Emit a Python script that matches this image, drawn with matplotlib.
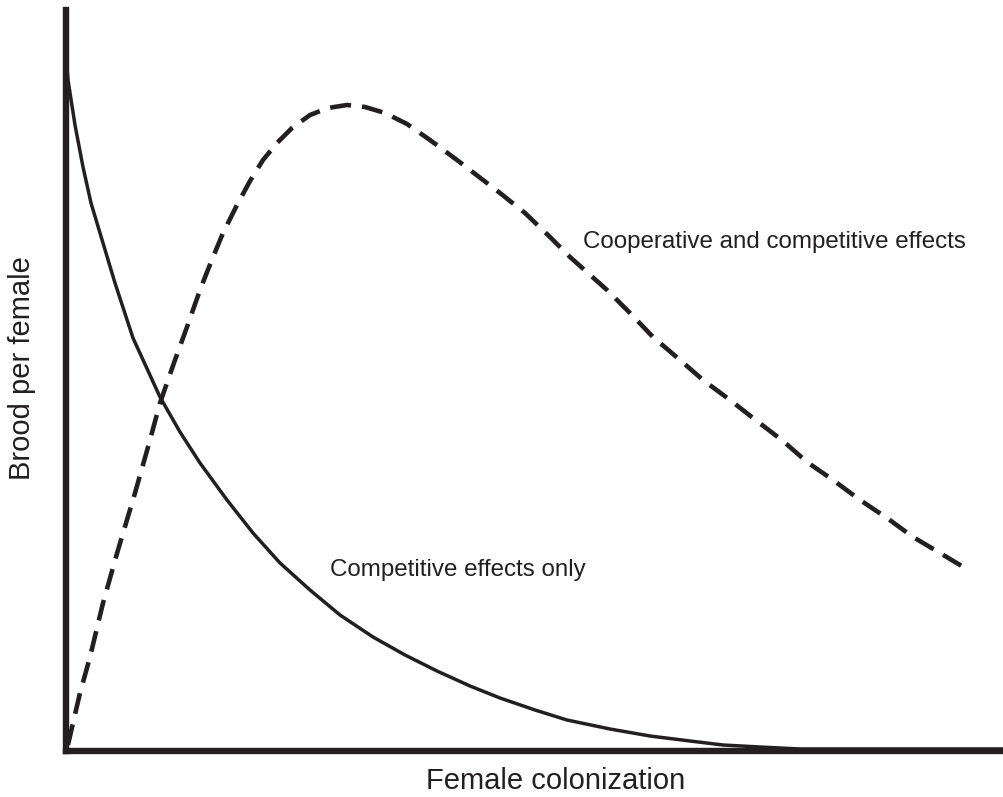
import matplotlib
matplotlib.use("Agg")
import matplotlib.pyplot as plt

plt.rcParams['font.family'] = ['Liberation Sans', 'DejaVu Sans']

# Arbitrary units (no tick marks on the original); x: 0-938, y: 0-741
comp_x = [0, 2, 9, 17, 25, 34, 49, 67, 94, 114, 134, 161, 187, 214, 244, 274, 307, 339,
          371, 404, 434, 469, 501, 544, 584, 624, 657, 694, 734, 938]
comp_y = [696, 671, 626, 584, 548, 518, 468, 413, 354, 319, 288, 251, 218, 188, 161, 136,
          114, 96, 80, 65, 53, 41, 31, 22, 15, 10, 6, 4, 2, 2]

coop_x = [2, 7, 14, 24, 37, 52, 69, 84, 94, 109, 121, 134, 145, 157, 171, 184, 197, 211,
          226, 244, 262, 281, 299, 319, 341, 364, 391, 417, 434, 459, 484, 504, 541, 564,
          587, 614, 637, 664, 687, 717, 741, 767, 794, 821, 847, 874, 904]
coop_y = [6, 28, 58, 94, 148, 201, 258, 311, 348, 391, 424, 461, 489, 518, 546, 570, 591,
          608, 623, 636, 643, 646, 644, 638, 627, 611, 591, 571, 558, 538, 514, 494, 461,
          438, 414, 391, 371, 351, 333, 310, 289, 271, 251, 233, 214, 198, 180]

label_comp = "Competitive effects only"
label_coop = "Cooperative and competitive effects"
xlabel = "Female colonization"
ylabel = "Brood per female"

ink = '#231f20'

W, H = 1004, 797
fig = plt.figure(figsize=(W / 100, H / 100), dpi=100)
ax = fig.add_axes([66 / W, 46 / H, 938 / W, 741 / H])
ax.set_xlim(0, 938)
ax.set_ylim(0, 741)

ax.plot(comp_x, comp_y, color=ink, lw=2.5, solid_joinstyle='round', solid_capstyle='round')
ax.plot(coop_x, coop_y, color=ink, lw=3.3, linestyle=(0, (4.6, 2.4)),
        dash_capstyle='butt', dash_joinstyle='round')

for s in ['top', 'right']:
    ax.spines[s].set_visible(False)
for s in ['left', 'bottom']:
    ax.spines[s].set_linewidth(4.6)
    ax.spines[s].set_color(ink)
ax.set_xticks([])
ax.set_yticks([])

fig.text(556 / W, 1 - 781 / H, xlabel, ha='center', va='center', fontsize=21, color=ink)
fig.text(22 / W, 1 - 368 / H, ylabel, ha='center', va='center', rotation=90, fontsize=21, color=ink)
fig.text(330 / W, 1 - 570 / H, label_comp, ha='left', va='center', fontsize=17.4, color=ink)
fig.text(583 / W, 1 - 242 / H, label_coop, ha='left', va='center', fontsize=17.4, color=ink)

fig.savefig('out.png', dpi=100)
